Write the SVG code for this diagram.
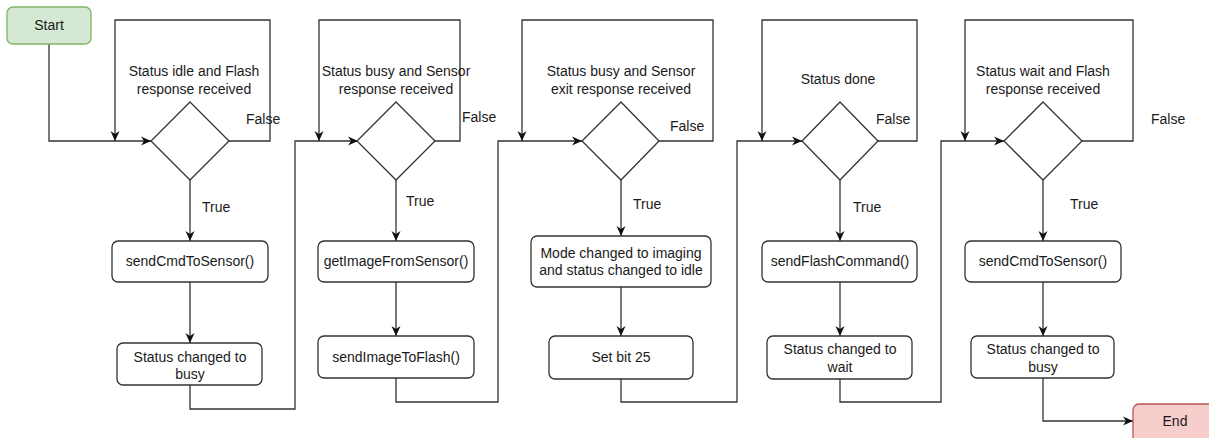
<svg xmlns="http://www.w3.org/2000/svg" width="1209" height="438" viewBox="0 0 1209 438">
  <style>
    text { font-family: "Liberation Sans", Arial, Helvetica, sans-serif; font-size: 14px; fill: #1a1a1a; }
    .c { text-anchor: middle; }
    .box { fill: #ffffff; stroke: #333333; stroke-width: 1.3; }
    .dia { fill: #ffffff; stroke: #333333; stroke-width: 1.3; }
    .start { fill: #d5e8d4; stroke: #82b366; stroke-width: 1.3; }
    .end { fill: #f8cecc; stroke: #b85450; stroke-width: 1.3; }
    .edge { fill: none; stroke: #333333; stroke-width: 1.3; }
    .arr { marker-end: url(#arrow); }
  </style>
  <defs>
    <marker id="arrow" markerUnits="userSpaceOnUse" markerWidth="12" markerHeight="10" refX="10" refY="5" orient="auto">
      <path d="M0,0.5 L10,5 L0,9.5 L3,5 Z" fill="#111111"/>
    </marker>
  </defs>
  <rect width="1209" height="438" fill="#ffffff"/>

  <!-- connectors -->
  <g id="connectors">
    <!-- start to first decision -->
    <path class="edge arr" d="M49,44 V141 H151"/>
    <!-- decision 1 -->
    <path class="edge arr" d="M229,141 H270 V20 H115 V141"/>
    <path class="edge arr" d="M190,180 V241"/>
    <path class="edge arr" d="M190,282 V343"/>
    <path class="edge arr" d="M190,385 V409 H295 V141 H358"/>
    <!-- decision 2 -->
    <path class="edge arr" d="M435,141 H460 V20 H319 V141"/>
    <path class="edge arr" d="M396,180 V241"/>
    <path class="edge arr" d="M396,282 V336"/>
    <path class="edge arr" d="M396,378 V402 H498 V141 H582"/>
    <!-- decision 3 -->
    <path class="edge arr" d="M659,141 H713 V20 H522 V141"/>
    <path class="edge arr" d="M621,180 V236"/>
    <path class="edge arr" d="M621,287 V336"/>
    <path class="edge arr" d="M621,379 V402 H737 V141 H802"/>
    <!-- decision 4 -->
    <path class="edge arr" d="M878,141 H917 V20 H762 V141"/>
    <path class="edge arr" d="M840,180 V241"/>
    <path class="edge arr" d="M840,282 V336"/>
    <path class="edge arr" d="M840,379 V402 H941 V141 H1004"/>
    <!-- decision 5 -->
    <path class="edge arr" d="M1082,141 H1133 V20 H965 V141"/>
    <path class="edge arr" d="M1043,180 V241"/>
    <path class="edge arr" d="M1043,282 V336"/>
    <path class="edge arr" d="M1043,378 V421 H1133"/>

    <!-- branch labels -->
    <text x="246" y="124">False</text>
    <text x="202" y="212">True</text>
    <text x="462" y="122">False</text>
    <text x="406" y="206">True</text>
    <text x="670" y="131">False</text>
    <text x="633" y="209">True</text>
    <text x="876" y="124">False</text>
    <text x="853" y="212">True</text>
    <text x="1151" y="124">False</text>
    <text x="1070" y="209">True</text>
  </g>

  <g id="start">
    <rect class="start" x="7" y="7" width="84" height="37" rx="6"/>
    <text class="c" x="49" y="30">Start</text>
  </g>

  <!-- column 1 -->
  <g id="decision1">
    <path class="dia" d="M190,102 L229,141 L190,180 L151,141 Z"/>
    <text class="c" x="194" y="76">Status idle and Flash</text>
    <text class="c" x="194" y="94">response received</text>
  </g>
  <g id="sendCmdToSensor1">
    <rect class="box" x="112" y="241" width="156" height="41" rx="6"/>
    <text class="c" x="190" y="266">sendCmdToSensor()</text>
  </g>
  <g id="statusBusy1">
    <rect class="box" x="117" y="343" width="145" height="42" rx="6"/>
    <text class="c" x="190" y="362">Status changed to</text>
    <text class="c" x="190" y="379">busy</text>
  </g>

  <!-- column 2 -->
  <g id="decision2">
    <path class="dia" d="M396,102 L435,141 L396,180 L357,141 Z"/>
    <text class="c" x="396" y="76">Status busy and Sensor</text>
    <text class="c" x="396" y="94">response received</text>
  </g>
  <g id="getImageFromSensor">
    <rect class="box" x="318" y="241" width="156" height="41" rx="6"/>
    <text class="c" x="396" y="266">getImageFromSensor()</text>
  </g>
  <g id="sendImageToFlash">
    <rect class="box" x="318" y="336" width="156" height="42" rx="6"/>
    <text class="c" x="396" y="362">sendImageToFlash()</text>
  </g>

  <!-- column 3 -->
  <g id="decision3">
    <path class="dia" d="M621,102 L659,141 L621,180 L582,141 Z"/>
    <text class="c" x="621" y="76">Status busy and Sensor</text>
    <text class="c" x="621" y="94">exit response received</text>
  </g>
  <g id="modeChanged">
    <rect class="box" x="531" y="236" width="180" height="51" rx="6"/>
    <text class="c" x="621" y="258">Mode changed to imaging</text>
    <text class="c" x="621" y="275">and status changed to idle</text>
  </g>
  <g id="setBit25">
    <rect class="box" x="549" y="336" width="144" height="43" rx="6"/>
    <text class="c" x="621" y="362">Set bit 25</text>
  </g>

  <!-- column 4 -->
  <g id="decision4">
    <path class="dia" d="M840,102 L878,141 L840,180 L802,141 Z"/>
    <text class="c" x="838" y="84">Status done</text>
  </g>
  <g id="sendFlashCommand">
    <rect class="box" x="762" y="241" width="155" height="41" rx="6"/>
    <text class="c" x="840" y="266">sendFlashCommand()</text>
  </g>
  <g id="statusWait">
    <rect class="box" x="767" y="336" width="145" height="43" rx="6"/>
    <text class="c" x="840" y="354">Status changed to</text>
    <text class="c" x="840" y="372">wait</text>
  </g>

  <!-- column 5 -->
  <g id="decision5">
    <path class="dia" d="M1043,102 L1082,141 L1043,180 L1004,141 Z"/>
    <text class="c" x="1043" y="76">Status wait and Flash</text>
    <text class="c" x="1043" y="94">response received</text>
  </g>
  <g id="sendCmdToSensor2">
    <rect class="box" x="965" y="241" width="156" height="41" rx="6"/>
    <text class="c" x="1043" y="266">sendCmdToSensor()</text>
  </g>
  <g id="statusBusy2">
    <rect class="box" x="971" y="336" width="143" height="42" rx="6"/>
    <text class="c" x="1043" y="354">Status changed to</text>
    <text class="c" x="1043" y="372">busy</text>
  </g>

  <g id="end">
    <rect class="end" x="1133" y="404" width="84" height="40" rx="6"/>
    <text class="c" x="1175" y="426">End</text>
  </g>
</svg>
